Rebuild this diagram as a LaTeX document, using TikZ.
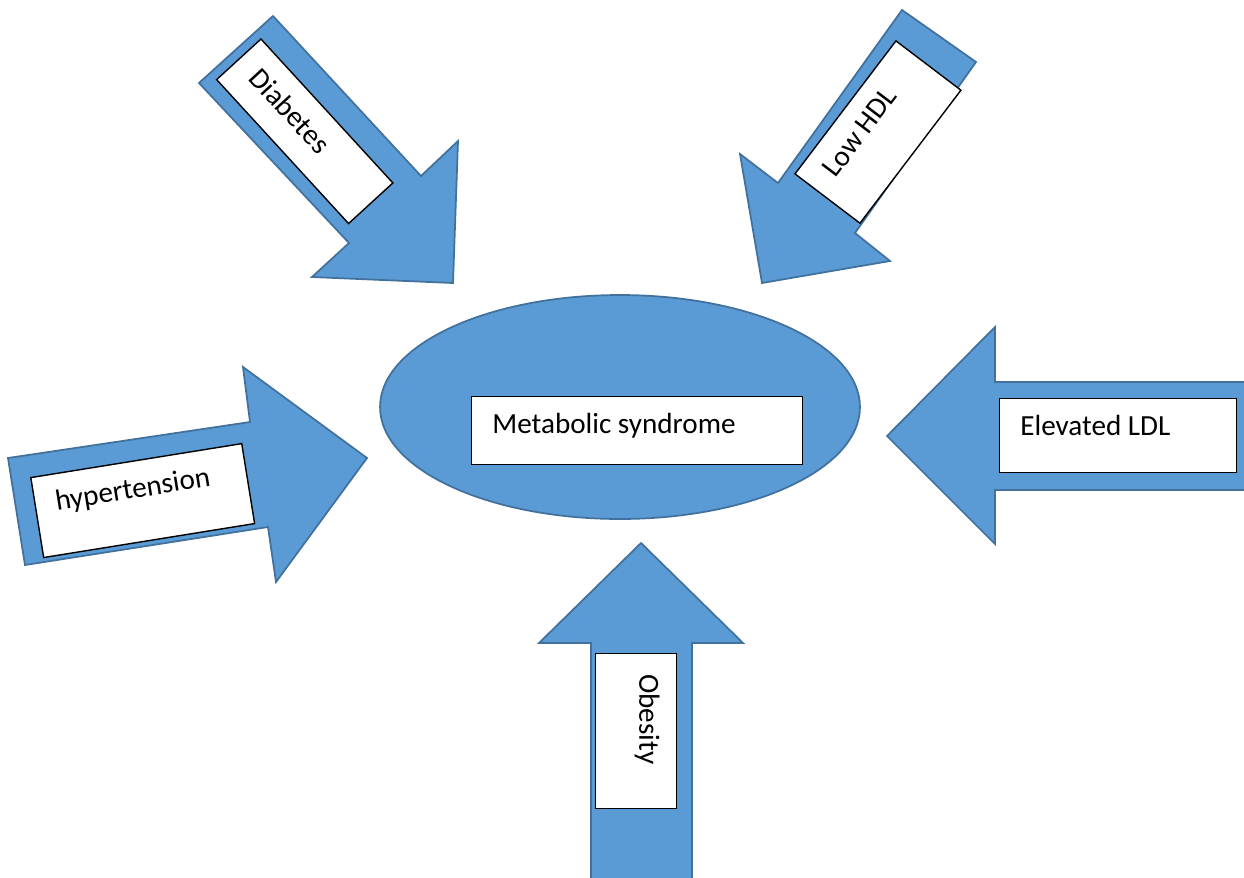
\documentclass[tikz,border=0pt]{standalone}
\usepackage{fontspec}
\setmainfont{Carlito}
\usepackage{tikz}
\usetikzlibrary{shapes.geometric, positioning}
\definecolor{officeblue}{RGB}{91,155,213}
\definecolor{officeedge}{RGB}{65,113,156}

\begin{document}
\begin{tikzpicture}[x=0.02cm, y=-0.02cm]
  \tikzstyle{blockarrow} = [fill=officeblue, draw=officeedge, line width=1pt, line join=miter]
  \tikzstyle{hub} = [ellipse, fill=officeblue, draw=officeedge, line width=1pt, minimum width=9.6cm, minimum height=4.48cm, inner sep=0pt]
  \tikzstyle{tbox} = [rectangle, draw=black, fill=white, line width=0.8pt, inner sep=0pt, anchor=north west]
  \tikzstyle{tlabel} = [anchor=north west, inner xsep=0.42cm, inner ysep=0.34cm, font=\fontsize{16.6}{20}\selectfont]

  \useasboundingbox (0,0) rectangle (1244,877);

  % Block arrows pointing to the centre
  \filldraw[blockarrow] (273,16) -- (421,176) -- (458,141) -- (453,283) -- (312,277) -- (349,243) -- (199,83) -- cycle;
  \filldraw[blockarrow] (902,10) -- (976,62) -- (855,233) -- (890,261) -- (762,283) -- (740,154) -- (778,183) -- cycle;
  \filldraw[blockarrow] (8,458) -- (250,422) -- (243,367) -- (367,458) -- (276,582) -- (268,527) -- (25,565) -- cycle;
  \filldraw[blockarrow] (1250,382) -- (995,382) -- (995,327) -- (887,436) -- (995,544) -- (995,490) -- (1250,490) -- cycle;
  \filldraw[blockarrow] (591,884) -- (591,643) -- (539,643) -- (641,543) -- (743,643) -- (692,643) -- (692,884) -- cycle;

  % Centre
  \node [hub] (mets) at (620,407) {};
  \node [tbox, minimum width=6.62cm, minimum height=1.36cm] (metsbox) at (471,396) {};
  \node [tlabel] (metstext) at (metsbox.north west) {Metabolic syndrome};

  % Text boxes on the arrows
  \node [tbox, rotate=-47.5, minimum width=3.906cm, minimum height=1.202cm] (diabbox) at (261,38) {};
  \node [tlabel, rotate=-47.5] (diabtext) at (diabbox.north west) {Diabetes};

  \node [tbox, rotate=52.8, minimum width=3.34cm, minimum height=1.632cm] (hdlbox) at (794,174) {};
  \node [tlabel, rotate=52.8] (hdltext) at (hdlbox.north west) {Low HDL};

  \node [tbox, rotate=9.15, minimum width=4.274cm, minimum height=1.62cm] (hyperbox) at (30,477) {};
  \node [tlabel, rotate=9.15] (hypertext) at (hyperbox.north west) {hypertension};

  \node [tbox, minimum width=4.74cm, minimum height=1.48cm] (ldlbox) at (999,398) {};
  \node [tlabel] (ldltext) at (ldlbox.north west) {Elevated LDL};

  \node [tbox, rotate=-90, minimum width=3.1cm, minimum height=1.62cm] (obesbox) at (677,653) {};
  \node [tlabel, rotate=-90] (obestext) at (obesbox.north west) {Obesity};
\end{tikzpicture}
\end{document}
